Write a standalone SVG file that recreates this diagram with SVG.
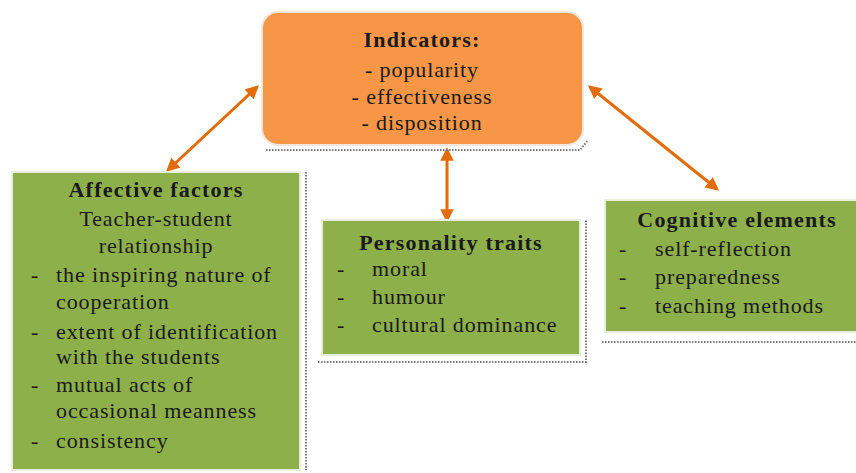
<svg xmlns="http://www.w3.org/2000/svg" width="856" height="473" viewBox="0 0 856 473" font-family="'Liberation Serif', 'Times New Roman', serif">
<defs>
<style>
text{font-family:'Liberation Serif','Times New Roman',serif;font-size:22px;letter-spacing:0.9px;fill:#1a1a1a}
.b{font-weight:bold;letter-spacing:1.2px}
.c{text-anchor:middle}
.g{fill:#8db04a;stroke:#e8eedc;stroke-width:2}
.sh{fill:none;stroke:#777;stroke-width:2;stroke-dasharray:1.5 1.5}
.ar{stroke:#e36c0a;stroke-width:3;fill:none;marker-start:url(#a);marker-end:url(#a)}
</style>
<marker id="a" viewBox="0 0 10 10" refX="8" refY="5" markerWidth="4.5" markerHeight="4.5" orient="auto-start-reverse" markerUnits="strokeWidth">
<path d="M0,0 L10,5 L0,10 Z" fill="#e36c0a"/>
</marker>
</defs>
<rect width="856" height="473" fill="#fff"/>
<g id="connectors">
<line class="ar" x1="168" y1="170" x2="257" y2="87"/>
<line class="ar" x1="447" y1="150" x2="447" y2="220"/>
<line class="ar" x1="590" y1="87" x2="717" y2="189"/>
</g>
<g id="indicators">
<path class="sh" d="M266,150 L580,150 L588,140"/>
<rect x="262" y="12" width="321" height="133" rx="16" fill="#f79646" stroke="#f3e6dc" stroke-width="2"/>
<text class="c b" x="422" y="47">Indicators:</text>
<text class="c" x="422" y="77">- popularity</text>
<text class="c" x="422" y="104">- effectiveness</text>
<text class="c" x="422" y="130">- disposition</text>
</g>
<g id="affective">
<line class="sh" x1="306" y1="172" x2="306" y2="470"/>
<rect class="g" x="12" y="172" width="288" height="298"/>
<text class="c b" x="156" y="197">Affective factors</text>
<text class="c" x="156" y="226">Teacher-student</text>
<text class="c" x="156" y="253">relationship</text>
<text x="31" y="282">-</text><text x="56" y="282">the inspiring nature of</text>
<text x="56" y="309">cooperation</text>
<text x="31" y="339">-</text><text x="56" y="339">extent of identification</text>
<text x="56" y="364">with the students</text>
<text x="31" y="392">-</text><text x="56" y="392">mutual acts of</text>
<text x="56" y="418">occasional meanness</text>
<text x="31" y="448">-</text><text x="56" y="448">consistency</text>
</g>
<g id="personality">
<path class="sh" d="M318,362 L586,362 L586,220"/>
<rect class="g" x="322" y="220" width="258" height="135"/>
<text class="c b" x="451" y="250">Personality traits</text>
<text x="337" y="276">-</text><text x="372" y="276">moral</text>
<text x="337" y="304">-</text><text x="372" y="304">humour</text>
<text x="337" y="332">-</text><text x="372" y="332">cultural dominance</text>
</g>
<g id="cognitive">
<line class="sh" x1="602" y1="342" x2="856" y2="342"/>
<rect class="g" x="605" y="200" width="253" height="132"/>
<text class="c b" x="737" y="227">Cognitive elements</text>
<text x="619" y="256">-</text><text x="655" y="256">self-reflection</text>
<text x="619" y="284">-</text><text x="655" y="284">preparedness</text>
<text x="619" y="313">-</text><text x="655" y="313">teaching methods</text>
</g>
</svg>
